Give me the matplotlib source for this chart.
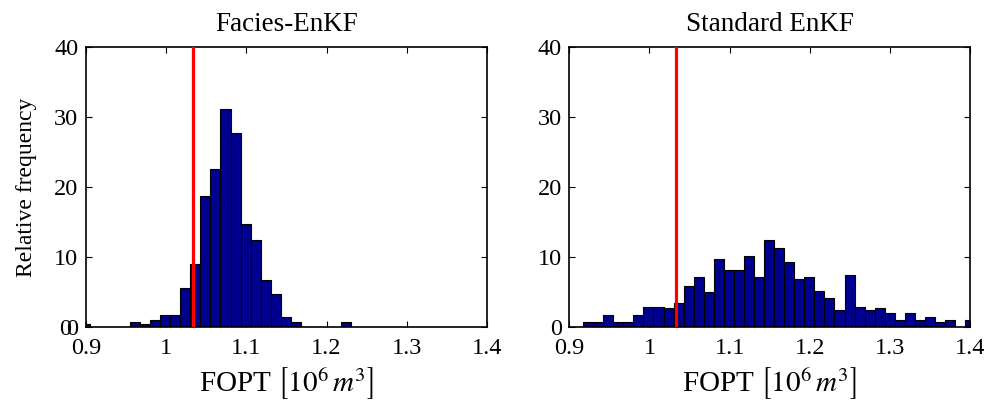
import numpy as np
import matplotlib
matplotlib.use('Agg')
import matplotlib.pyplot as plt
import matplotlib.transforms as mtransforms

plt.rcParams['font.family'] = ['Liberation Serif', 'DejaVu Serif']
plt.rcParams['mathtext.fontset'] = 'stix'

# common histogram bins (10^6 m^3)
bin_start = 0.8920
bin_width = 0.01255

# relative frequency per bin
facies_freq = [0.5, 0, 0, 0, 0, 0.75, 0.5, 1.0, 1.75, 1.75, 5.6, 9.1, 18.7, 22.6,
               31.2, 27.8, 14.8, 12.5, 6.7, 4.7, 1.5, 0.75, 0, 0, 0, 0, 0.7]
standard_freq = [0, 0, 0.8, 0.8, 1.8, 0.8, 0.8, 1.8, 2.95, 2.95, 2.7, 3.5, 5.9, 7.15,
                 5.0, 9.8, 8.15, 8.15, 10.15, 7.15, 12.4, 11.35, 9.35, 6.95, 7.15,
                 5.25, 4.25, 2.5, 7.4, 2.95, 2.5, 2.7, 2.0, 1.05, 2.0, 1.05, 1.5,
                 0.8, 1.05, 0, 1.05]

true_fopt = 1.033
titles = ['Facies-EnKF', 'Standard EnKF']
xticks = [0.9, 1.0, 1.1, 1.2, 1.3, 1.4]
xticklabels = ['0.9', '1', '1.1', '1.2', '1.3', '1.4']
yticks = [0, 10, 20, 30, 40]

fig = plt.figure(figsize=(9.95, 4.08), dpi=100)
ax1 = fig.add_axes([0.0864, 0.1978, 0.403, 0.6863])
ax2 = fig.add_axes([0.5722, 0.1978, 0.4027, 0.6863])

for ax, freq, title in zip([ax1, ax2], [facies_freq, standard_freq], titles):
    lefts = bin_start + bin_width * np.arange(len(freq))
    ax.bar(lefts, freq, width=bin_width, align='edge', color='#00008f',
           edgecolor='black', linewidth=0.8, zorder=2)
    ax.axvline(true_fopt, color='#ff0000', linewidth=2.3, zorder=3)
    ax.set_xlim(0.9, 1.4)
    ax.set_ylim(0, 40)
    ax.set_xticks(xticks)
    ax.set_xticklabels(xticklabels)
    ax.set_yticks(yticks)
    ax.tick_params(direction='in', length=4, width=0.8, top=True, right=True,
                   labelsize=17.5)
    ax.tick_params(axis='x', pad=8)
    ax.tick_params(axis='y', pad=5.5)
    for sp in ax.spines.values():
        sp.set_linewidth(1.2)
    ax.set_title(title, fontsize=19.5, pad=12)
    ax.set_xlabel(r'FOPT $\left[10^{6}_{\ }\,m^{3}_{\ }\right]$', fontsize=21, labelpad=5)

ax1.set_ylabel('Relative frequency', fontsize=17, labelpad=12)

# the left zero label is printed twice, slightly shifted
shift = mtransforms.offset_copy(ax1.get_yaxis_transform(), fig=fig, x=-10.5, y=0, units='points')
ax1.text(0, 0, '0', transform=shift, fontsize=17.5, ha='right', va='center_baseline')

plt.savefig('out.png', dpi=100)
plt.close()
